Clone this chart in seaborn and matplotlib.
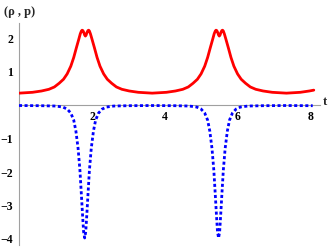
import numpy as np
import pandas as pd
import matplotlib
matplotlib.use('Agg')
import matplotlib.pyplot as plt
from matplotlib.ticker import MultipleLocator
import seaborn as sns

# 密度 rho(t) 读图数据
t_rho = [0.00, 0.37, 0.62, 0.82, 0.97, 1.10, 1.22, 1.32, 1.42, 1.50, 1.57, 1.64,
         1.68, 1.71, 1.73, 1.75, 1.775, 1.80, 1.82, 1.84, 1.865, 1.89, 1.91, 1.93,
         1.96, 2.00, 2.07, 2.14, 2.22, 2.32,
         2.42, 2.54, 2.67, 2.82, 3.02, 3.27, 3.65,
         4.04, 4.29, 4.49, 4.64, 4.77, 4.89, 4.99, 5.09, 5.17, 5.24, 5.31,
         5.35, 5.38, 5.40, 5.42, 5.445, 5.47, 5.49, 5.51, 5.535, 5.56, 5.58, 5.60,
         5.63, 5.67, 5.74, 5.81, 5.89, 5.99, 6.09,
         6.21, 6.34, 6.49, 6.69, 6.94, 7.33, 7.71, 7.96, 8.08]
rho = [0.355, 0.38, 0.42, 0.47, 0.54, 0.65, 0.77, 0.93, 1.16, 1.42, 1.70, 1.97,
       2.13, 2.21, 2.235, 2.225, 2.17, 2.09, 2.06, 2.09, 2.17, 2.225, 2.235, 2.21,
       2.12, 1.97, 1.70, 1.42, 1.16, 0.93,
       0.77, 0.65, 0.54, 0.47, 0.42, 0.38, 0.355,
       0.38, 0.42, 0.47, 0.54, 0.65, 0.77, 0.93, 1.16, 1.42, 1.70, 1.97,
       2.13, 2.21, 2.235, 2.225, 2.17, 2.09, 2.06, 2.09, 2.17, 2.225, 2.235, 2.21,
       2.12, 1.97, 1.70, 1.42, 1.16, 0.93, 0.77,
       0.65, 0.54, 0.47, 0.42, 0.38, 0.355, 0.38, 0.42, 0.445]

# 压强 p(t) 读图数据
t_p = [0.00, 0.60, 1.00, 1.20, 1.32, 1.42, 1.50, 1.56, 1.62, 1.67, 1.71, 1.74,
       1.77, 1.80, 1.83, 1.86, 1.89, 1.93, 1.98, 2.04, 2.10, 2.18, 2.28, 2.40,
       2.60, 3.00, 3.63,
       4.27, 4.67, 4.87, 4.99, 5.09, 5.17, 5.23, 5.29, 5.34, 5.38, 5.41, 5.44,
       5.47, 5.50, 5.53, 5.56, 5.60, 5.65, 5.71, 5.77, 5.85, 5.95, 6.07, 6.27,
       6.67, 7.30, 8.05]
p = [-0.015, -0.02, -0.03, -0.06, -0.12, -0.24, -0.45, -0.78, -1.30, -1.95, -2.68, -3.25,
     -3.78, -3.97, -3.78, -3.25, -2.68, -1.95, -1.30, -0.78, -0.45, -0.24, -0.12, -0.06,
     -0.03, -0.02, -0.015,
     -0.02, -0.03, -0.06, -0.12, -0.24, -0.45, -0.78, -1.30, -1.95, -2.68, -3.25, -3.78,
     -3.97, -3.78, -3.25, -2.68, -1.95, -1.30, -0.78, -0.45, -0.24, -0.12, -0.06, -0.03,
     -0.02, -0.015, -0.02]

xticks = [2, 4, 6, 8]
yticks = [-4, -3, -2, -1, 1, 2]
ytick_labels = ['\u22124', '\u22123', '\u22122', '\u22121', '1', '2']

sns.set_style('white')
plt.rcParams['font.family'] = ['Liberation Serif', 'DejaVu Serif']
plt.rcParams['axes.unicode_minus'] = True

fig = plt.figure(figsize=(3.32, 2.49), dpi=100)
ax = fig.add_axes([19/332, 4/249, 301/332, 222/249])

sns.lineplot(x=t_rho, y=rho, ax=ax, color='#ff0000', linewidth=2.0, zorder=3)
sns.lineplot(x=t_p, y=p, ax=ax, color='#0000ff', linewidth=2.0, zorder=3,
             dashes=False)
ax.lines[-1].set_linestyle((0, (1.1, 0.9)))

ax.set_xlim(0, 8.25)
ax.set_ylim(-4.18, 2.45)

# 坐标轴交于原点（Mathematica 风格）
for s in ['top', 'right']:
    ax.spines[s].set_visible(False)
ax.spines['bottom'].set_position(('data', 0))
for s in ['left', 'bottom']:
    ax.spines[s].set_color('#a0a0a0')
    ax.spines[s].set_linewidth(0.8)

ax.set_xticks(xticks)
ax.set_xticklabels([str(v) for v in xticks], fontweight='bold')
ax.set_yticks(yticks)
ax.set_yticklabels(ytick_labels, fontweight='bold')
ax.xaxis.set_minor_locator(MultipleLocator(0.5))
ax.yaxis.set_minor_locator(MultipleLocator(0.2))
ax.tick_params(which='major', direction='in', length=4, width=0.6,
               color='#a0a0a0', labelsize=8.5, labelcolor='black')
ax.tick_params(which='minor', direction='in', length=2, width=0.5, color='#a0a0a0')
ax.tick_params(axis='x', which='major', pad=4)
ax.tick_params(axis='y', which='major', pad=4)

fig.text(0.012, 0.952, '(\u03c1 , p)', fontsize=9, fontweight='bold',
         va='center', ha='left')
fig.text(0.972, 1 - 102/249, 't', fontsize=9, fontweight='bold',
         va='center', ha='left')

fig.savefig('out.png', dpi=100)
